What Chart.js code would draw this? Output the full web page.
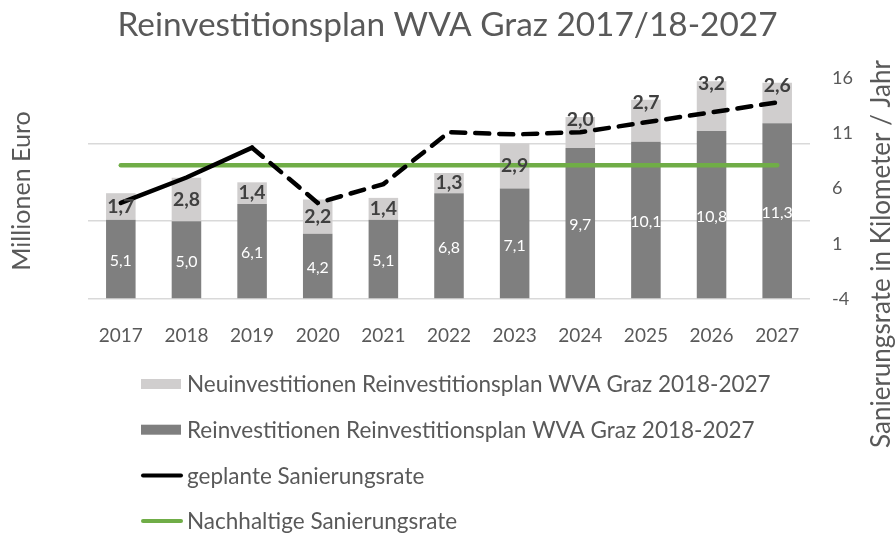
<!DOCTYPE html>
<html>
<head>
<meta charset="utf-8">
<script src="https://cdn.jsdelivr.net/npm/chart.js@4/dist/chart.umd.min.js"></script>
<style>
  body { margin: 0; background: #fff; }
  canvas { display: block; }
</style>
</head>
<body>
<canvas id="chart" width="895" height="533"></canvas>
<script>
const years = ["2017", "2018", "2019", "2020", "2021", "2022", "2023", "2024", "2025", "2026", "2027"];
const reinvest = [5.1, 5.0, 6.1, 4.2, 5.1, 6.8, 7.1, 9.7, 10.1, 10.8, 11.3];
const neuinvest = [1.7, 2.8, 1.4, 2.2, 1.4, 1.3, 2.9, 2.0, 2.7, 3.2, 2.6];
const geplanteRate = [4.7, 7.0, 9.7, 4.7, 6.4, 11.1, 10.9, 11.1, 12.0, 12.9, 13.8];
const nachhaltigeRate = [8.1, 8.1, 8.1, 8.1, 8.1, 8.1, 8.1, 8.1, 8.1, 8.1, 8.1];
const rateTicks = [-4, 1, 6, 11, 16];

const FONT = "Lato";
const GREY = "#595959";
const comma = (v) => v.toFixed(1).replace(".", ",");

// Schriftgröße so wählen, dass der Text etwa die Breite aus dem Original hat
const measureCtx = document.createElement("canvas").getContext("2d");
function fitSize(text, width, weight = "normal") {
  measureCtx.font = weight + " 100px " + FONT;
  return Math.round((1000 * width) / measureCtx.measureText(text).width) / 10;
}

const titleText = "Reinvestitionsplan WVA Graz 2017/18-2027";
const leftTitle = "Millionen Euro";
const rightTitle = "Sanierungsrate in Kilometer / Jahr";

const legendItems = [
  { text: "Neuinvestitionen Reinvestitionsplan WVA Graz 2018-2027", color: "#d0cece", type: "box" },
  { text: "Reinvestitionen Reinvestitionsplan WVA Graz 2018-2027", color: "#7f7f7f", type: "box" },
  { text: "geplante Sanierungsrate", color: "#000000", type: "line" },
  { text: "Nachhaltige Sanierungsrate", color: "#70ad47", type: "line" },
];

const sizes = {
  title: fitSize(titleText, 660),
  left: fitSize(leftTitle, 160),
  right: fitSize(rightTitle, 388),
  legend: fitSize(legendItems[0].text, 583),
  x: fitSize("2017", 44),
  y1: fitSize("16", 21),
  neu: fitSize("2,8", 27, "bold"),
  rein: fitSize("5,1", 22),
};

const labelPlugin = {
  id: "barLabels",
  afterDatasetsDraw(chart) {
    const ctx = chart.ctx;
    ctx.save();
    ctx.textAlign = "center";
    ctx.textBaseline = "middle";
    const dark = chart.getDatasetMeta(2);
    ctx.font = sizes.rein + "px " + FONT;
    ctx.fillStyle = "#ffffff";
    dark.data.forEach((bar, i) => {
      ctx.fillText(comma(reinvest[i]), bar.x, (bar.y + bar.base) / 2 + 2);
    });
    const light = chart.getDatasetMeta(3);
    ctx.font = "bold " + sizes.neu + "px " + FONT;
    ctx.fillStyle = "#404040";
    light.data.forEach((bar, i) => {
      let y = (bar.y + bar.base) / 2;
      if (i >= 7) y = bar.y + 3;
      ctx.fillText(comma(neuinvest[i]), bar.x, y);
    });
    ctx.restore();
  },
  afterDraw(chart) {
    const ctx = chart.ctx;
    ctx.save();
    ctx.fillStyle = GREY;
    ctx.textAlign = "center";
    ctx.textBaseline = "middle";

    ctx.save();
    ctx.font = sizes.left + "px " + FONT;
    ctx.translate(22, 191);
    ctx.rotate(-Math.PI / 2);
    ctx.fillText(leftTitle, 0, 0);
    ctx.restore();

    ctx.save();
    ctx.font = sizes.right + "px " + FONT;
    ctx.translate(882, 254);
    ctx.rotate(-Math.PI / 2);
    ctx.fillText(rightTitle, 0, 0);
    ctx.restore();

    // Legende untereinander
    ctx.textAlign = "left";
    ctx.font = sizes.legend + "px " + FONT;
    legendItems.forEach((it, k) => {
      const y = 384 + k * 45.7;
      if (it.type === "box") {
        ctx.fillStyle = it.color;
        ctx.fillRect(141, y - 5, 40, 10);
      } else {
        ctx.strokeStyle = it.color;
        ctx.lineWidth = 4;
        ctx.lineCap = "round";
        ctx.beginPath();
        ctx.moveTo(143, y);
        ctx.lineTo(181, y);
        ctx.stroke();
      }
      ctx.fillStyle = GREY;
      ctx.fillText(it.text, 187, y + 1);
    });
    ctx.restore();
  },
};

const ctx = document.getElementById("chart").getContext("2d");
const chart = new Chart(ctx, {
  type: "bar",
  data: {
    labels: years,
    datasets: [
      {
        type: "line",
        label: "geplante Sanierungsrate",
        data: geplanteRate,
        yAxisID: "y1",
        borderColor: "#000000",
        borderWidth: 4.5,
        borderCapStyle: "round",
        pointRadius: 0,
        tension: 0,
        order: 0,
        segment: {
          borderDash: (c) => (c.p0DataIndex >= 2 ? [14, 10] : undefined),
        },
      },
      {
        type: "line",
        label: "Nachhaltige Sanierungsrate",
        data: nachhaltigeRate,
        yAxisID: "y1",
        borderColor: "#70ad47",
        borderWidth: 4.5,
        borderCapStyle: "round",
        pointRadius: 0,
        order: 1,
      },
      {
        label: "Reinvestitionen Reinvestitionsplan WVA Graz 2018-2027",
        data: reinvest,
        backgroundColor: "#7f7f7f",
        stack: "a",
        yAxisID: "y",
        order: 2,
        barPercentage: 0.45,
        categoryPercentage: 1,
      },
      {
        label: "Neuinvestitionen Reinvestitionsplan WVA Graz 2018-2027",
        data: neuinvest,
        backgroundColor: "#d0cece",
        stack: "a",
        yAxisID: "y",
        order: 2,
        barPercentage: 0.45,
        categoryPercentage: 1,
      },
    ],
  },
  options: {
    responsive: false,
    animation: false,
    events: [],
    layout: { padding: 0 },
    plugins: {
      legend: { display: false },
      tooltip: { enabled: false },
      title: {
        display: true,
        text: titleText,
        color: GREY,
        font: { family: FONT, size: sizes.title, weight: "normal" },
        padding: { top: 5, bottom: 33 },
      },
    },
    scales: {
      x: {
        stacked: true,
        grid: { display: false },
        border: { display: false },
        ticks: {
          color: GREY,
          font: { family: FONT, size: sizes.x },
          padding: 17,
        },
        afterFit: (s) => { s.height = 234; },
      },
      y: {
        stacked: true,
        position: "left",
        min: 0,
        max: 14.2,
        ticks: { display: false, stepSize: 5 },
        afterBuildTicks: (s) => { s.ticks = s.ticks.filter((t) => t.value % 5 === 0); },
        grid: { color: "#d9d9d9", lineWidth: 1.5, drawTicks: false },
        border: { display: false },
        afterFit: (s) => { s.width = 88; },
      },
      y1: {
        position: "right",
        min: -4,
        max: 16,
        afterBuildTicks: (s) => { s.ticks = rateTicks.map((v) => ({ value: v })); },
        ticks: {
          color: GREY,
          font: { family: FONT, size: sizes.y1 },
          padding: 22,
        },
        grid: { display: false, drawTicks: false },
        border: { display: false },
        afterFit: (s) => { s.width = 85; },
      },
    },
  },
  plugins: [labelPlugin],
});
</script>
</body>
</html>
